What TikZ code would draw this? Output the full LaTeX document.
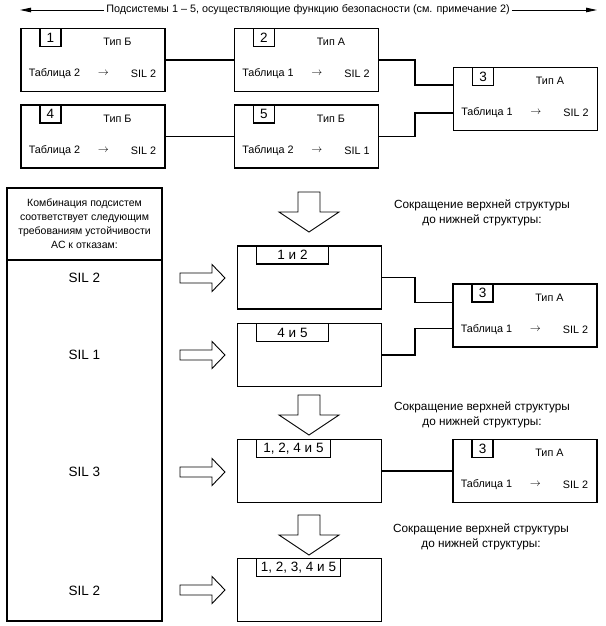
\documentclass[tikz,border=0pt]{standalone}
\usepackage{fontspec}
\setmainfont{Liberation Sans}
\usetikzlibrary{arrows.meta}

\tikzset{
  box/.style={draw,line width=1.1pt,minimum width=144pt,minimum height=63pt,inner sep=0pt},
  tag/.style={draw,line width=1.1pt,anchor=north west,minimum height=18pt,inner sep=1pt,
    font=\fontsize{13.5}{13.5}\selectfont},
  txt/.style={font=\fontsize{10.8}{12}\selectfont,inner sep=0pt},
  note/.style={font=\fontsize{11.8}{15}\selectfont,align=center,inner sep=0pt},
  sil/.style={font=\fontsize{13.5}{14}\selectfont,inner sep=0pt},
  wire/.style={line width=1.2pt},
  blockarrow/.style={draw,line width=0.9pt,fill=white},
}

\begin{document}
\begin{tikzpicture}[x=1pt,y=-1pt]
  \useasboundingbox (0,0) rectangle (605,626);

  % heading
  \node[font=\fontsize{10.8}{12}\selectfont,inner sep=2pt] (head) at (308,10)
    {Подсистемы 1 – 5, осуществляющие функцию безопасности (см. примечание 2)};
  \coordinate (hl) at (20,10);
  \coordinate (hr) at (597,10);
  \draw[line width=0.9pt,-{Triangle[length=11pt,width=4.5pt]}] (head.west) -- (hl);
  \draw[line width=0.9pt,-{Triangle[length=11pt,width=4.5pt]}] (head.east) -- (hr);

  % subsystems
  \foreach \n/\x/\y/\num/\typ/\tab/\sil in {b1/93/60/1/Б/2/2,b2/306.5/60/2/А/1/2,
      b4/93/136.5/4/Б/2/2,b5/306.5/136.5/5/Б/2/1,b3/525.5/99/3/А/1/2,
      c3/525/315.5/3/А/1/2,d3/525/471/3/А/1/2} {
    \node[box] (\n) at (\x,\y) {};
    \node[tag,minimum width=21pt] at ([xshift=19pt]\n.north west) {\num};
    \node[txt] at ([shift={(97,14)}]\n.north west) {Тип \typ};
    \node[txt] at ([shift={(34,46)}]\n.north west) {Таблица \tab};
    \node[txt] at ([shift={(83,46)}]\n.north west) {$\rightarrow$};
    \node[txt] at ([shift={(123,46)}]\n.north west) {SIL \sil};
  }

  % reduced structures
  \foreach \n/\y/\lab/\w in {r12/277.5/1 и 2/72,r45/355/4 и 5/72,
      r1245/471/{1, 2, 4 и 5}/74,r12345/590/{1, 2, 3, 4 и 5}/84} {
    \node[box] (\n) at (309.5,\y) {};
    \node[tag,minimum width=\w pt] at ([xshift=19pt]\n.north west) {\lab};
  }

  \draw[wire] (b1) -- (b2);
  \draw[wire] (b4) -- (b5);
  \draw[wire] (b2.east) -- ++(36,0) |- ([yshift=14pt]b3.west);
  \draw[wire] (b5.east) -- ++(36,0) |- ([yshift=-14pt]b3.west);
  \draw[wire] (r12.east) -- ++(33,0) |- ([yshift=13pt]c3.west);
  \draw[wire] (r45.east) -- ++(33,0) |- ([yshift=-13pt]c3.west);
  \draw[wire] (r1245) -- (d3);

  % left column
  \node[draw,line width=1.1pt,minimum width=155pt,minimum height=72pt,align=center,
    font=\fontsize{10.5}{14}\selectfont] (colhead) at (84.5,224)
    {Комбинация подсистем\\соответствует следующим\\требованиям устойчивости\\АС к отказам:};
  \node[draw,line width=1.1pt,minimum width=155pt,minimum height=361pt] (colbody)
    at (84.5,440.5) {};
  \node[sil] (s1) at (84.5,278) {SIL 2};
  \node[sil] (s2) at (84.5,355) {SIL 1};
  \node[sil] (s3) at (84.5,472) {SIL 3};
  \node[sil] (s4) at (84.5,591) {SIL 2};

  % notes
  \node[note] (n1) at (482,212.5) {Сокращение верхней структуры\\до нижней структуры:};
  \node[note] (n2) at (482,414.5) {Сокращение верхней структуры\\до нижней структуры:};
  \node[note] (n3) at (481,537) {Сокращение верхней структуры\\до нижней структуры:};

  % block arrows
  \foreach \y in {278,355,472,590}
    \draw[blockarrow] (180,\y-5) -- (212,\y-5) -- (212,\y-13.5) -- (225,\y)
      -- (212,\y+13.5) -- (212,\y+5) -- (180,\y+5) -- cycle;
  \foreach \t in {232,435,555}
    \draw[blockarrow] (298,\t-40) -- (298,\t-20) -- (279,\t-20) -- (309,\t)
      -- (339,\t-20) -- (320,\t-20) -- (320,\t-40) -- cycle;
\end{tikzpicture}
\end{document}
